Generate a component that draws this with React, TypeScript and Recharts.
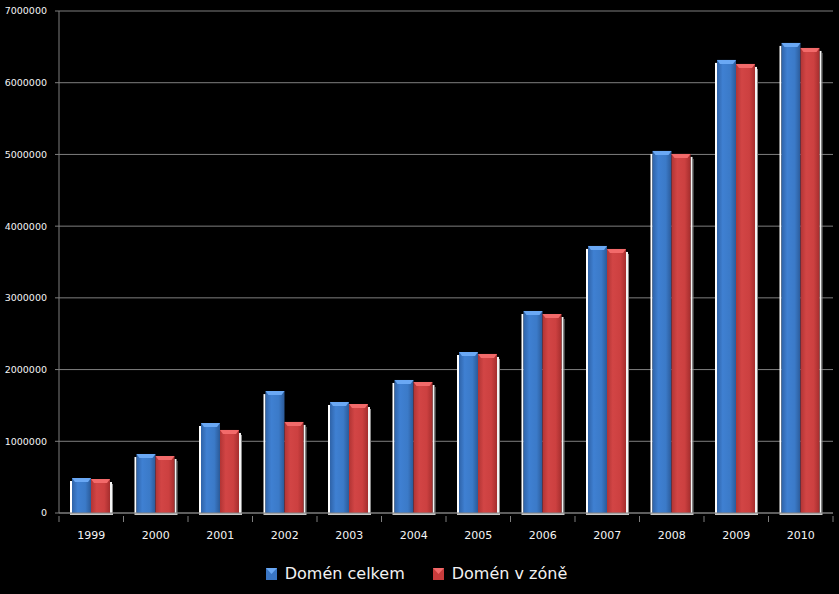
import { Bar, BarChart, CartesianGrid, Legend, XAxis, YAxis } from "recharts"

// roky a počty domén
const years = ["1999", "2000", "2001", "2002", "2003", "2004", "2005", "2006", "2007", "2008", "2009", "2010"]
const celkem = [488000, 823000, 1255000, 1700000, 1548000, 1855000, 2245000, 2817000, 3724000, 5049000, 6318000, 6555000]
const vZone = [474000, 795000, 1158000, 1270000, 1520000, 1827000, 2218000, 2775000, 3682000, 5007000, 6262000, 6485000]
const yTicks = [0, 1000000, 2000000, 3000000, 4000000, 5000000, 6000000, 7000000]

const seriesNames = { celkem: "Domén celkem", vZone: "Domén v zóně" }

const data = years.map((rok, i) => ({ rok, celkem: celkem[i], vZone: vZone[i] }))

const W = 839
const H = 594
const LEFT = 59
const RIGHT = 6
const catWidth = (W - LEFT - RIGHT) / years.length
const gridColor = "#7f7f7f"
const font = "'DejaVu Sans', sans-serif"

function makeBar(kind: "blue" | "red") {
  return (props: any) => {
    const { x, y, width, height } = props
    if (!height || height <= 0) return <g />
    const top = kind === "blue" ? "#6aa8f4" : "#f26a6a"
    return (
      <g>
        {kind === "blue" ? (
          <rect x={x - 2} y={y + 3} width={2} height={height - 3} fill="#ffffff" />
        ) : (
          <>
            <rect x={x + width} y={y + 3} width={2} height={height - 3} fill="#f4f4f4" />
            <rect x={x + width + 2} y={y + 5} width={1} height={height - 5} fill="#8a8a8a" />
          </>
        )}
        <rect x={kind === "blue" ? x - 2 : x} y={y + height} width={width + 3} height={2} fill="#c8c8c8" />
        <rect x={x} y={y} width={width} height={height} fill={`url(#grad-${kind})`} />
        <polygon
          points={`${x},${y} ${x + width},${y} ${x + width - 3},${y + 4} ${x + 3},${y + 4}`}
          fill={top}
        />
      </g>
    )
  }
}

const BlueBar = makeBar("blue")
const RedBar = makeBar("red")

function XTick(props: any) {
  const { x, y, payload, index } = props
  const left = x - catWidth / 2
  return (
    <g>
      <line x1={left} x2={left} y1={y - 5} y2={y + 1} stroke={gridColor} />
      {index === years.length - 1 && (
        <line x1={left + catWidth} x2={left + catWidth} y1={y - 5} y2={y + 1} stroke={gridColor} />
      )}
      <text x={x} y={y + 10} dy="0.71em" textAnchor="middle" fill="#f4f4f4" fontSize={11} fontFamily={font}>
        {payload.value}
      </text>
    </g>
  )
}

function LegendIcon({ kind }: { kind: "blue" | "red" }) {
  const main = kind === "blue" ? "#3a76c4" : "#c83c3c"
  const light = kind === "blue" ? "#6aa8f4" : "#f26a6a"
  return (
    <svg width={11} height={12} style={{ display: "block" }}>
      <rect x={0} y={0} width={11} height={12} fill={main} />
      <polygon points="0,0 11,0 5.5,6" fill={light} />
    </svg>
  )
}

function LegendContent() {
  const items: ["blue" | "red", string][] = [
    ["blue", seriesNames.celkem],
    ["red", seriesNames.vZone],
  ]
  return (
    <div style={{ display: "flex", justifyContent: "center", gap: 28, paddingTop: 11 }}>
      {items.map(([k, name]) => (
        <div key={name} style={{ display: "flex", alignItems: "center", gap: 8 }}>
          <LegendIcon kind={k} />
          <span style={{ color: "#f2f2f2", fontFamily: font, fontSize: 16 }}>{name}</span>
        </div>
      ))}
    </div>
  )
}

export default function App() {
  return (
    <div style={{ position: "absolute", left: 0, top: 0, width: W, height: H, background: "#000" }}>
      <BarChart
        width={W}
        height={H}
        data={data}
        margin={{ top: 11, right: RIGHT, bottom: 0, left: 0 }}
        barSize={19}
        barGap={0}
      >
        <defs>
          <linearGradient id="grad-blue" x1="0" x2="1" y1="0" y2="0">
            <stop offset="0%" stopColor="#2f63a8" />
            <stop offset="30%" stopColor="#3f80d2" />
            <stop offset="70%" stopColor="#3b7ac8" />
            <stop offset="100%" stopColor="#2b5a98" />
          </linearGradient>
          <linearGradient id="grad-red" x1="0" x2="1" y1="0" y2="0">
            <stop offset="0%" stopColor="#b13434" />
            <stop offset="30%" stopColor="#d24545" />
            <stop offset="70%" stopColor="#cc4040" />
            <stop offset="100%" stopColor="#a52e2e" />
          </linearGradient>
        </defs>
        <CartesianGrid vertical={false} stroke={gridColor} />
        <XAxis
          dataKey="rok"
          height={40}
          tickLine={false}
          axisLine={{ stroke: gridColor }}
          tick={<XTick />}
          interval={0}
        />
        <YAxis
          width={LEFT}
          domain={[0, 7000000]}
          ticks={yTicks}
          tickSize={4}
          tickMargin={8}
          tickLine={{ stroke: gridColor }}
          axisLine={{ stroke: gridColor }}
          tick={{ fill: "#f4f4f4", fontSize: 9.5, fontFamily: font }}
        />
        <Legend verticalAlign="bottom" height={41} content={<LegendContent />} />
        <Bar dataKey="celkem" name={seriesNames.celkem} shape={BlueBar} isAnimationActive={false} />
        <Bar dataKey="vZone" name={seriesNames.vZone} shape={RedBar} isAnimationActive={false} />
      </BarChart>
    </div>
  )
}
